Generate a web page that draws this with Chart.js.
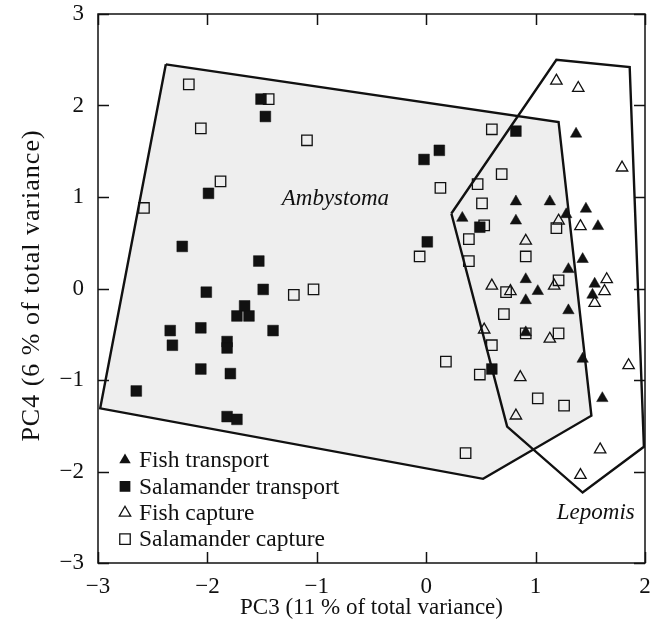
<!DOCTYPE html>
<html><head><meta charset="utf-8">
<script src="https://cdn.jsdelivr.net/npm/chart.js@4/dist/chart.umd.min.js"></script>
<style>html,body{margin:0;padding:0;background:#fff}</style>
</head><body>
<canvas id="c" width="665" height="632"></canvas>
<script>
// ---- data ----
const xTickValues = [-3, -2, -1, 0, 1, 2];
const yTickValues = [-3, -2, -1, 0, 1, 2, 3];
const xTickLabels = ['−3', '−2', '−1', '0', '1', '2'];
const yTickLabels = ['−3', '−2', '−1', '0', '1', '2', '3'];

const fishTransportX = [1.37, 0.82, 1.13, 1.46, 1.28, 0.33, 0.82, 1.57, 1.43, 1.30, 0.91, 1.54, 1.02, 1.52, 0.91, 1.30, 0.91, 1.43, 1.61];
const fishTransportY = [1.69, 0.95, 0.95, 0.87, 0.81, 0.77, 0.74, 0.68, 0.32, 0.21, 0.10, 0.05, -0.03, -0.07, -0.13, -0.24, -0.48, -0.77, -1.20];

const salTransportX = [-1.51, -1.47, -1.99, -2.23, -1.53, -1.49, -2.01, -1.66, -1.73, -1.62, -2.34, -2.06, -1.40, -2.32, -1.82, -1.82, -2.06, -1.79, -2.65, -1.82, -1.73, 0.12, -0.02, 0.01, 0.82, 0.49, 0.60];
const salTransportY = [2.07, 1.88, 1.04, 0.46, 0.30, -0.01, -0.04, -0.19, -0.30, -0.30, -0.46, -0.43, -0.46, -0.62, -0.58, -0.65, -0.88, -0.93, -1.12, -1.40, -1.43, 1.51, 1.41, 0.51, 1.72, 0.67, -0.88];

const fishCaptureX = [1.19, 1.39, 1.79, 1.21, 1.41, 0.91, 1.65, 0.60, 0.77, 1.17, 1.63, 1.54, 0.53, 1.13, 1.85, 0.86, 0.82, 1.59, 1.41];
const fishCaptureY = [2.27, 2.19, 1.32, 0.74, 0.68, 0.52, 0.10, 0.03, -0.03, 0.03, -0.03, -0.16, -0.45, -0.55, -0.84, -0.97, -1.39, -1.76, -2.04];

const salCaptureX = [-2.17, -1.44, -2.06, -1.88, -2.58, -1.09, -1.03, -1.21, 0.13, -0.06, 0.39, 0.39, 0.60, 0.69, 0.47, 0.51, 0.53, 1.19, 0.91, 1.21, 0.73, 0.71, 0.91, 1.21, 0.60, 0.18, 0.49, 1.02, 1.26, 0.36];
const salCaptureY = [2.23, 2.07, 1.75, 1.17, 0.88, 1.62, -0.01, -0.07, 1.10, 0.35, 0.54, 0.30, 1.74, 1.25, 1.14, 0.93, 0.69, 0.66, 0.35, 0.09, -0.04, -0.28, -0.49, -0.49, -0.62, -0.80, -0.94, -1.20, -1.28, -1.80];

const ambystomaX = [-2.38, 1.21, 1.51, 0.52, -2.98, -2.38];
const ambystomaY = [2.45, 1.82, -1.39, -2.08, -1.31, 2.45];
const lepomisX = [0.23, 1.19, 1.86, 1.99, 1.43, 0.74, 0.23];
const lepomisY = [0.82, 2.50, 2.42, -1.73, -2.23, -1.51, 0.82];

const groupLabels = ['Ambystoma', 'Lepomis'];
const groupLabelX = [-0.83, 1.55];
const groupLabelY = [0.98, -2.45];

const seriesNames = ['Fish transport', 'Salamander transport', 'Fish capture', 'Salamander capture'];
const xTitle = 'PC3 (11 % of total variance)';
const yTitle = 'PC4 (6 % of total variance)';

// ---- build ----
const pts = (xs, ys) => xs.map((x, i) => ({x, y: ys[i]}));
const FONT = '"Liberation Serif", "Times New Roman", serif';
const INK = '#111';

const markerStyles = [
  {pointStyle: 'triangle', filled: true, r: 6.6},
  {pointStyle: 'rect', filled: true, r: 7.6},
  {pointStyle: 'triangle', filled: false, r: 6.6},
  {pointStyle: 'rect', filled: false, r: 7.4}
];
const seriesData = [
  pts(fishTransportX, fishTransportY),
  pts(salTransportX, salTransportY),
  pts(fishCaptureX, fishCaptureY),
  pts(salCaptureX, salCaptureY)
];

const datasets = seriesData.map((d, i) => ({
  type: 'scatter',
  label: seriesNames[i],
  data: d,
  order: 0,
  pointStyle: markerStyles[i].pointStyle,
  pointRadius: markerStyles[i].r,
  pointBackgroundColor: markerStyles[i].filled ? INK : 'rgba(0,0,0,0)',
  pointBorderColor: INK,
  pointBorderWidth: markerStyles[i].filled ? 0.5 : 1.3,
  showLine: false
}));

datasets.push({
  type: 'line', label: 'Lepomis', data: pts(lepomisX, lepomisY), order: 2,
  borderColor: INK, borderWidth: 2.4, pointRadius: 0, fill: false, tension: 0
});
datasets.push({
  type: 'line', label: 'Ambystoma', data: pts(ambystomaX, ambystomaY), order: 3,
  borderColor: INK, borderWidth: 2.4, pointRadius: 0, fill: 'shape',
  backgroundColor: '#eeeeee', tension: 0
});

const framePlugin = {
  id: 'frame',
  afterDatasetsDraw(chart) {
    const {ctx, chartArea: a, scales: {x, y}} = chart;
    ctx.save();
    // group labels
    ctx.fillStyle = INK;
    ctx.font = 'italic 23px ' + FONT;
    ctx.textAlign = 'center';
    ctx.textBaseline = 'middle';
    groupLabels.forEach((t, i) => {
      ctx.fillText(t, x.getPixelForValue(groupLabelX[i]), y.getPixelForValue(groupLabelY[i]));
    });
    // frame
    ctx.strokeStyle = INK;
    ctx.lineWidth = 1.5;
    ctx.strokeRect(a.left, a.top, a.right - a.left, a.bottom - a.top);
    const tl = 11;
    ctx.beginPath();
    xTickValues.forEach(v => {
      const px = Math.round(x.getPixelForValue(v)) + 0.5;
      ctx.moveTo(px, a.bottom); ctx.lineTo(px, a.bottom - tl);
      ctx.moveTo(px, a.top); ctx.lineTo(px, a.top + tl);
    });
    yTickValues.forEach(v => {
      const py = Math.round(y.getPixelForValue(v)) + 0.5;
      ctx.moveTo(a.left, py); ctx.lineTo(a.left + tl, py);
      ctx.moveTo(a.right, py); ctx.lineTo(a.right - tl, py);
    });
    ctx.stroke();
    // legend
    const lx = a.left + 27, ly0 = a.bottom - 103, dy = 26.4;
    ctx.font = '23.5px ' + FONT;
    ctx.textAlign = 'left';
    seriesNames.forEach((name, i) => {
      const cy = ly0 + i * dy;
      const m = markerStyles[i];
      ctx.beginPath();
      if (m.pointStyle === 'triangle') {
        const r = m.r;
        ctx.moveTo(lx, cy - r);
        ctx.lineTo(lx + r * 0.866, cy + r * 0.5);
        ctx.lineTo(lx - r * 0.866, cy + r * 0.5);
        ctx.closePath();
      } else {
        const s = m.r * Math.SQRT1_2;
        ctx.rect(lx - s, cy - s, 2 * s, 2 * s);
      }
      if (m.filled) { ctx.fillStyle = INK; ctx.fill(); }
      else { ctx.lineWidth = 1.3; ctx.strokeStyle = INK; ctx.stroke(); }
      ctx.fillStyle = INK;
      ctx.fillText(name, lx + 14, cy + 1);
    });
    // y axis title
    ctx.save();
    ctx.translate(32, (a.top + a.bottom) / 2 - 3);
    ctx.rotate(-Math.PI / 2);
    ctx.font = '26px ' + FONT;
    try { ctx.letterSpacing = '1px'; } catch (e) {}
    ctx.textAlign = 'center';
    ctx.textBaseline = 'middle';
    ctx.fillText(yTitle, 0, 0);
    ctx.restore();
    ctx.restore();
  }
};

new Chart(document.getElementById('c'), {
  type: 'scatter',
  data: {datasets},
  plugins: [framePlugin],
  options: {
    responsive: false,
    animation: false,
    events: [],
    devicePixelRatio: 1,
    layout: {padding: {top: 14, right: 20, left: 0, bottom: 0}},
    plugins: {legend: {display: false}, tooltip: {enabled: false}},
    scales: {
      x: {
        type: 'linear', min: -3, max: 2,
        afterBuildTicks: s => { s.ticks = xTickValues.map(v => ({value: v})); },
        afterFit: s => { s.height = 69; s.paddingLeft = 0; s.paddingRight = 0; },
        grid: {display: false, drawTicks: false},
        border: {display: false},
        ticks: {
          padding: 10, color: INK, font: {family: FONT, size: 23},
          callback: v => xTickLabels[xTickValues.indexOf(v)]
        },
        title: {display: true, text: xTitle, color: INK, font: {family: FONT, size: 23}, padding: {top: 0, bottom: 10}}
      },
      y: {
        type: 'linear', min: -3, max: 3,
        afterBuildTicks: s => { s.ticks = yTickValues.map(v => ({value: v})); },
        afterFit: s => { s.width = 98; s.paddingTop = 0; s.paddingBottom = 0; },
        grid: {display: false, drawTicks: false},
        border: {display: false},
        ticks: {
          padding: 14, color: INK, font: {family: FONT, size: 23},
          callback: v => yTickLabels[yTickValues.indexOf(v)]
        },
        title: {display: false}
      }
    }
  }
});
</script>
</body></html>
